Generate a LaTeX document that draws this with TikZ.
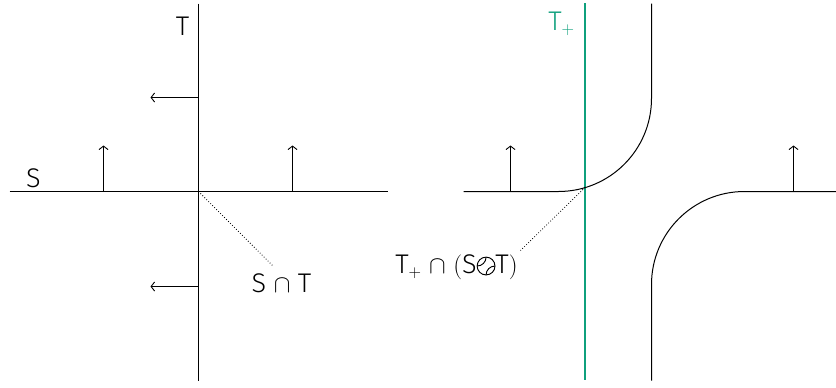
\documentclass[tikz,border=0pt]{standalone}
\usepackage{fontspec}
\setmainfont{Fira Sans}[UprightFont={* Light}]
\usetikzlibrary{arrows.meta}
\definecolor{tgreen}{RGB}{15,160,125}
\newcommand\smoothop{\mathbin{\tikz[baseline=-0.55ex,x=1em,y=1em,line width=0.035em]{\draw (0,0) circle (0.33); \draw (-0.33,0) to[out=0,in=-90] (0,0.33); \draw (0,-0.33) to[out=90,in=180] (0.33,0);}}}
\begin{document}
\begin{tikzpicture}[x=1pt,y=-1pt,line width=1pt,
  lbl/.style={font=\fontsize{27}{32}\selectfont, inner sep=0pt},
  vec/.style={-{Straight Barb[length=3.5pt,width=9pt,line width=0.9pt]}},
  guide/.style={dotted, line width=0.8pt}]
\useasboundingbox (0,0) rectangle (836,388);
\coordinate (gt) at (585,3); \coordinate (gb) at (585,380);
\draw[tgreen, line width=1.25pt] (gt) -- (gb);
\begin{scope}[xshift=0.5pt,yshift=-0.5pt]
% left panel
\coordinate (sl) at (9,191); \coordinate (sr) at (387,191);
\coordinate (tt) at (198,3); \coordinate (tb) at (198,380);
\coordinate (o) at (198,191);
\draw (sl) -- (sr);
\draw (tt) -- (tb);
\coordinate (a1) at (103,191); \coordinate (a1e) at (103,145);
\coordinate (a2) at (292,191); \coordinate (a2e) at (292,145);
\coordinate (b1) at (198,97); \coordinate (b1e) at (150,97);
\coordinate (b2) at (198,286); \coordinate (b2e) at (150,286);
\draw[vec] (a1) -- (a1e);
\draw[vec] (a2) -- (a2e);
\draw[vec] (b1) -- (b1e);
\draw[vec] (b2) -- (b2e);
\node[lbl] (S) at (33,178) {S};
\node[lbl] (T) at (182,26) {T};
\node[lbl] (ST) at (281,283) {S\ $\cap$\ T};
\coordinate (d1) at (272,265);
\draw[guide] (o) -- (d1);
% right panel
\coordinate (rl) at (463,191);
\coordinate (rtop) at (651,3);
\draw (rl) -- (558,191) arc[start angle=90, end angle=0, radius=93] -- (rtop);
\coordinate (rbot) at (651,380);
\coordinate (rr) at (836,191);
\draw (rbot) -- (651,284) arc[start angle=180, end angle=270, radius=93] -- (rr);
\coordinate (c1) at (510,191); \coordinate (c1e) at (510,145);
\coordinate (c2) at (793,191); \coordinate (c2e) at (793,145);
\draw[vec] (c1) -- (c1e);
\draw[vec] (c2) -- (c2e);
\node[lbl,text=tgreen] (Tp) at (561,23) {T$_+$};
\coordinate (x) at (584.5,187);
\coordinate (d2) at (520,250);
\draw[guide] (x) -- (d2);
\node[lbl] (TSS) at (456,267) {T$_+$\ $\cap$\ $($S$\smoothop$T$)$};
\end{scope}
\end{tikzpicture}
\end{document}
